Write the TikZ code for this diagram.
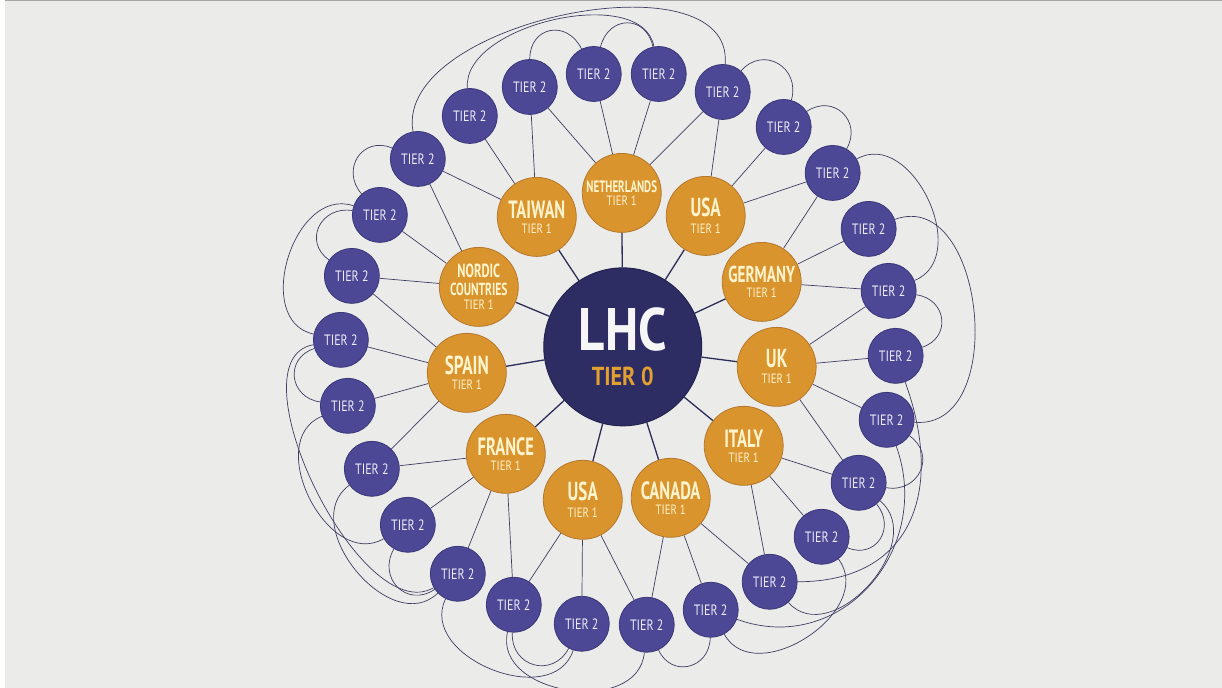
\documentclass[tikz,border=0pt]{standalone}
\usepackage{fontspec}
\usetikzlibrary{calc}
\newfontfamily\fname[FakeStretch=0.66]{PT Sans}
\newfontfamily\ftier[FakeStretch=0.8]{PT Sans}
\newfontfamily\fbig[FakeStretch=0.85]{PT Sans}
\definecolor{paper}{RGB}{235,235,233}
\definecolor{tpurple}{RGB}{76,72,150}
\definecolor{tpurpleedge}{RGB}{58,55,120}
\definecolor{torange}{RGB}{217,148,45}
\definecolor{torangeedge}{RGB}{180,120,45}
\definecolor{hubblue}{RGB}{45,45,100}
\definecolor{hubedge}{RGB}{35,35,80}
\definecolor{cream}{RGB}{255,244,205}
\definecolor{tiertwotext}{RGB}{238,236,246}
\definecolor{hubtext}{RGB}{246,246,246}
\definecolor{lhcorange}{RGB}{226,160,48}
\definecolor{linecol}{RGB}{62,61,100}
\definecolor{spokecol}{RGB}{45,45,90}
\newcommand\cname[2]{{\fname\bfseries\fontsize{#1}{#1}\selectfont #2}}
\newcommand\tonelabel{{\ftier\fontsize{13.5}{13.5}\selectfont TIER 1}}
\pgfdeclarelayer{paper}
\pgfdeclarelayer{links}
\pgfsetlayers{paper,links,main}
\begin{document}
\begin{tikzpicture}[x=1pt,y=1pt,
  tiertwo/.style={circle,fill=tpurple,draw=tpurpleedge,line width=0.8pt,minimum size=55pt,inner sep=0pt,text=tiertwotext,font=\ftier\fontsize{15}{15}\selectfont},
  tierone/.style={circle,fill=torange,draw=torangeedge,line width=0.8pt,minimum size=79pt,inner sep=0pt,align=center,text=cream},
  hub/.style={circle,fill=hubblue,draw=hubedge,line width=1pt,minimum size=158pt,inner sep=0pt,align=center,text=hubtext},
  spoke/.style={draw=spokecol,line width=1.3pt},
  leaf/.style={draw=linecol,line width=0.7pt},
  ringline/.style={draw=linecol,line width=0.7pt}]
\begin{pgfonlayer}{paper}
\fill[paper] (0,0) rectangle (1222,-688);
\fill[white] (0,0) rectangle (5,-688);
\draw[gray!70,line width=1pt] (5,-0.5) -- (1222,-0.5);
\end{pgfonlayer}
\useasboundingbox (0,0) rectangle (1222,-688);

% hub
\node[hub] (hub) at (623,-347) {{\fbig\bfseries\fontsize{60}{60}\selectfont LHC}\\[15pt]{\fbig\bfseries\fontsize{26}{26}\selectfont\color{lhcorange}TIER 0}};

% tier 1
\node[tierone] (n1) at (622,-193) {\cname{16.5}{NETHERLANDS}\\[1pt]\tonelabel};
\node[tierone] (n2) at (706,-216) {\cname{26}{USA}\\[5pt]\tonelabel};
\node[tierone] (n3) at (762,-282) {\cname{23}{GERMANY}\\[3pt]\tonelabel};
\node[tierone] (n4) at (777,-367) {\cname{26}{UK}\\[4pt]\tonelabel};
\node[tierone] (n5) at (744,-446) {\cname{25}{ITALY}\\[3pt]\tonelabel};
\node[tierone] (n6) at (671,-498) {\cname{25}{CANADA}\\[3pt]\tonelabel};
\node[tierone] (n7) at (583,-500) {\cname{26}{USA}\\[5pt]\tonelabel};
\node[tierone] (n8) at (506,-454) {\cname{25}{FRANCE}\\[3pt]\tonelabel};
\node[tierone] (n9) at (467,-373) {\cname{26}{SPAIN}\\[3pt]\tonelabel};
\node[tierone] (n10) at (479,-287) {\cname{19}{NORDIC}\\[4pt]\cname{17.5}{COUNTRIES}\\[2pt]\tonelabel};
\node[tierone] (n11) at (537,-217) {\cname{25}{TAIWAN}\\[3pt]\tonelabel};

% tier 2
\foreach \k/\px/\py in {1/594/74,2/659/74,3/723/92,4/784/127,5/833/173,6/869/229,7/889/291,8/896/356,9/887/420,10/859/483,11/822/537,12/770/582,13/711/610,14/647/625,15/582/624,16/514/605,17/458/574,18/408/525,19/372/469,20/348/406,21/341/340,22/352/276,23/380/215,24/418/159,25/470/116,26/530/87}
  \node[tiertwo] (t\k) at (\px,-\py) {TIER 2};

\begin{pgfonlayer}{links}
\foreach \ia/\ib in {n1/t26,n1/t1,n1/t2,n1/t3,n11/t24,n11/t25,n11/t26,n2/t3,n2/t4,n2/t5,n3/t5,n3/t6,n3/t7,n4/t7,n4/t8,n4/t9,n4/t10,n5/t10,n5/t11,n5/t12,n6/t12,n6/t13,n6/t14,n7/t14,n7/t15,n7/t16,n8/t16,n8/t17,n8/t18,n8/t19,n9/t19,n9/t20,n9/t21,n9/t22,n10/t22,n10/t23,n10/t24}
  \draw[leaf] (\ia) -- (\ib);
\foreach \ia in {n1,n2,n3,n4,n5,n6,n7,n8,n9,n10,n11}
  \draw[spoke] (hub) -- (\ia);
\foreach \ia/\ib/\oa/\ob/\lo in {24/3/100/85/0.9,25/2/95/100/0.86,26/1/90/116/1.6,1/2/76/102/1.6,3/4/49/74/1.5,4/5/34/60/1.5,5/7/30/22/1.2,6/9/20/-5/1.2,7/8/-8/18/1.5,8/12/-70/0/1.3,9/10/-35/-10/1.5,9/13/-70/-20/1.2,10/11/-50/-23/1.5,10/12/-40/-48/1.2,11/13/-53/-61/1.2,13/14/-91/-65/1.5,14/16/-95/-103/1.2,15/16/-118/-93/1.5,15/17/-108/-116/1.2,17/18/-146/-120/1.5,17/19/-136/-144/1.2,18/20/-150/-158/1.2,17/21/-150/-170/0.8,20/21/-188/-162/1.5,21/23/-192/-199/1.2,22/23/-215/-189/1.5,23/24/-229/-203/1.5}
  \draw[ringline] (t\ia) to[out=\oa,in=\ob,looseness=\lo] (t\ib);
\end{pgfonlayer}
\end{tikzpicture}
\end{document}
